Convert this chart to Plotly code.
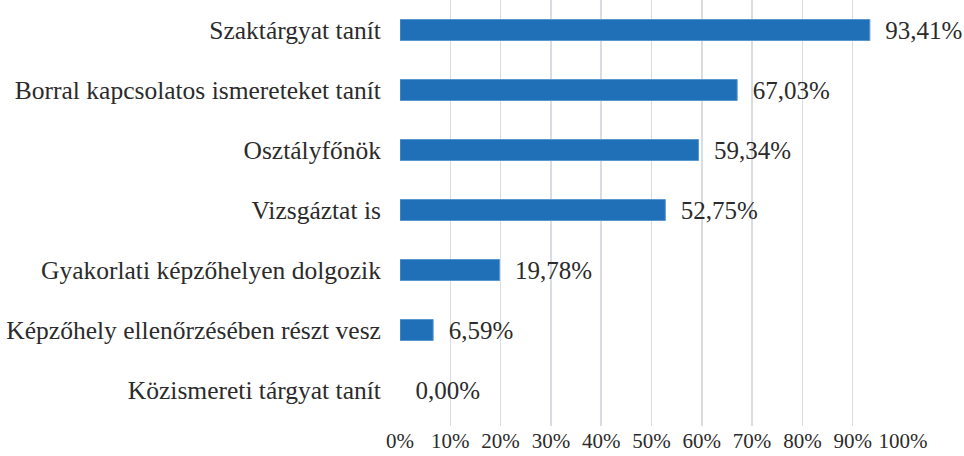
import plotly.graph_objects as go

categories = [
    "Szaktárgyat tanít",
    "Borral kapcsolatos ismereteket tanít",
    "Osztályfőnök",
    "Vizsgáztat is",
    "Gyakorlati képzőhelyen dolgozik",
    "Képzőhely ellenőrzésében részt vesz",
    "Közismereti tárgyat tanít",
]
values = [93.41, 67.03, 59.34, 52.75, 19.78, 6.59, 0.00]
tick_vals = [0, 10, 20, 30, 40, 50, 60, 70, 80, 90, 100]
tick_text = [f"{v}%" for v in tick_vals]

labels = ["\u2002" + f"{v:.2f}".replace(".", ",") + "%" for v in values]
edge_widths = [1 if v > 0 else 0 for v in values]

FONT = "Liberation Serif"
TXT = "#2b2b2b"

fig = go.Figure(
    go.Bar(
        x=values,
        y=categories,
        orientation="h",
        marker=dict(color="#1f70b7", line=dict(color="#5a97d0", width=edge_widths)),
        width=0.35,
        text=labels,
        textposition="outside",
        constraintext="none",
        textfont=dict(family=FONT, size=25, color=TXT),
        cliponaxis=False,
        hoverinfo="skip",
    )
)

fig.update_layout(
    width=964,
    height=456,
    margin=dict(l=400, r=61, t=0, b=30),
    paper_bgcolor="white",
    plot_bgcolor="white",
    showlegend=False,
    font=dict(family=FONT, size=25, color=TXT),
    xaxis=dict(
        range=[0, 100],
        tickvals=tick_vals,
        ticktext=tick_text,
        showgrid=True,
        gridcolor="#d9dde3",
        gridwidth=1.5,
        zeroline=False,
        showline=False,
        ticks="",
        tickfont=dict(family=FONT, size=21, color=TXT),
        fixedrange=True,
    ),
    yaxis=dict(
        type="category",
        categoryorder="array",
        categoryarray=categories,
        range=[6.6, -0.5],
        showgrid=False,
        zeroline=False,
        showline=False,
        ticks="outside",
        ticklen=13,
        tickcolor="rgba(0,0,0,0)",
        tickfont=dict(family=FONT, size=25.5, color=TXT),
        fixedrange=True,
    ),
)

fig.write_html(
    "out.html",
    config={"displayModeBar": False, "staticPlot": True},
    post_script="document.body.style.margin='0';document.body.style.padding='0';",
)
